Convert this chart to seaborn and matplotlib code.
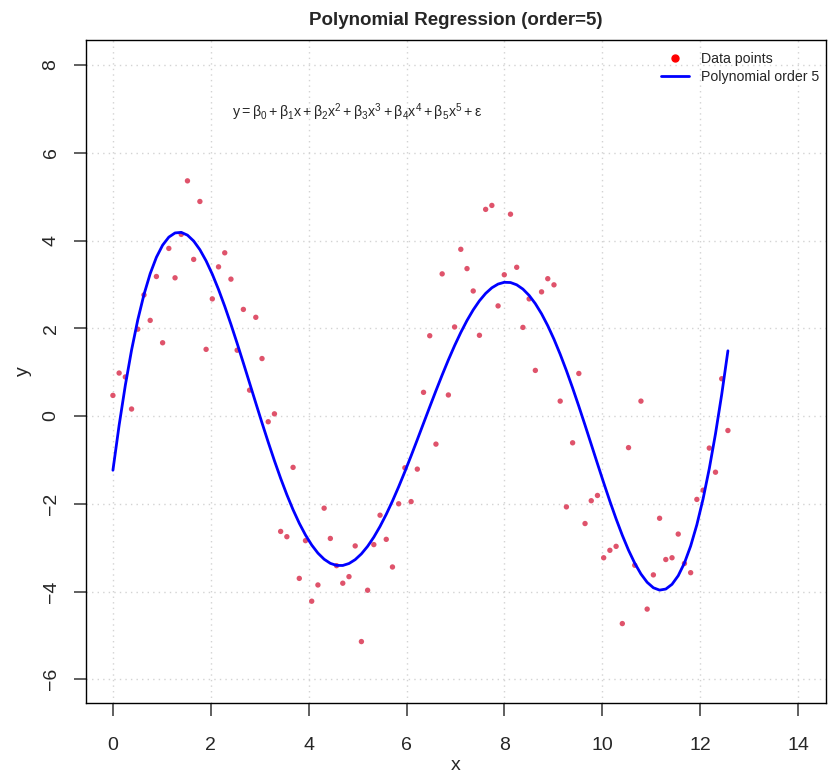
import numpy as np
import pandas as pd
import matplotlib
matplotlib.use("Agg")
import matplotlib.pyplot as plt
from matplotlib.lines import Line2D
import seaborn as sns

# ---- data ----
x_start, x_end, n_points = 0.0, 12.566, 100
y_values = [
    0.47, 0.98, 0.89, 0.16, 1.98, 2.76, 2.18, 3.18, 1.67, 3.82,
    3.15, 4.14, 5.36, 3.57, 4.89, 1.52, 2.67, 3.40, 3.72, 3.12,
    1.50, 2.43, 0.59, 2.25, 1.31, -0.13, 0.05, -2.63, -2.75, -1.17,
    -3.70, -2.84, -4.22, -3.85, -2.10, -2.79, -3.41, -3.81, -3.66, -2.96,
    -5.14, -3.97, -2.93, -2.26, -2.81, -3.44, -2.00, -1.18, -1.95, -1.21,
    0.54, 1.83, -0.64, 3.24, 0.48, 2.03, 3.80, 3.36, 2.85, 1.84,
    4.71, 4.80, 2.51, 3.22, 4.60, 3.39, 2.02, 2.67, 1.04, 2.83,
    3.13, 2.99, 0.34, -2.07, -0.61, 0.97, -2.45, -1.93, -1.81, -3.23,
    -3.06, -2.97, -4.73, -0.72, -3.40, 0.34, -4.40, -3.62, -2.33, -3.27,
    -3.23, -2.69, -3.36, -3.57, -1.90, -1.69, -0.73, -1.28, 0.85, -0.33,
]
x_values = np.linspace(x_start, x_end, n_points)

curve_x = [0.0, 0.45, 0.62, 0.88, 1.37, 2.02, 2.40, 2.83, 3.21, 3.41, 3.69,
           3.94, 4.23, 4.56, 4.91, 5.32, 5.97, 6.41, 6.68, 7.23, 7.64, 8.08,
           8.59, 8.93, 9.41, 9.85, 10.09, 10.63, 11.21, 11.66, 12.0, 12.27, 12.566]
curve_y = [-1.27, 1.96, 2.80, 3.48, 4.13, 3.18, 2.26, 0.74, -0.74, -1.31, -2.22,
           -2.83, -3.28, -3.46, -3.28, -2.60, -1.18, -0.01, 0.82, 2.04, 2.76, 3.09,
           2.64, 2.04, 0.60, -0.93, -1.76, -3.36, -3.85, -3.44, -2.22, -0.62, 1.47]
curve_smooth_order = 9

x_ticks = [0, 2, 4, 6, 8, 10, 12, 14]
y_ticks = [-6, -4, -2, 0, 2, 4, 6, 8]
title = "Polynomial Regression (order=5)"
legend_labels = ["Data points", "Polynomial order 5"]
equation = (r"$\mathsf{y=\beta_0+\beta_1x+\beta_2x^2+\beta_3x^3+\beta_4x^4+\beta_5x^5+\varepsilon}$")

df = pd.DataFrame({"x": x_values, "y": y_values})
curve_df = pd.DataFrame({"x": curve_x, "y": curve_y})

sns.set_style("white")
plt.rcParams["font.family"] = ["Liberation Sans", "DejaVu Sans"]
plt.rcParams["mathtext.fontset"] = "custom"
plt.rcParams["mathtext.rm"] = "Liberation Sans"
plt.rcParams["mathtext.sf"] = "Liberation Sans"
plt.rcParams["mathtext.it"] = "Liberation Sans"

fig = plt.figure(figsize=(8.31, 7.75), dpi=100)
ax = fig.add_axes([86 / 831, 1 - 703 / 775, (826 - 86) / 831, (703 - 40) / 775])

point_color = "#DF536B"
line_color = "blue"

sns.scatterplot(data=df, x="x", y="y", ax=ax, s=15, color=point_color,
                edgecolor="none", zorder=3)
sns.regplot(data=curve_df, x="x", y="y", order=curve_smooth_order, ci=None, ax=ax,
            scatter=False, line_kws=dict(color=line_color, lw=2.0, zorder=4))

ax.set_xlim(-0.55, 14.57)
ax.set_ylim(-6.54, 8.57)
ax.set_xticks(x_ticks)
ax.set_yticks(y_ticks)
ax.set_xticklabels([str(t) for t in x_ticks])
ax.set_yticklabels([str(t).replace("-", "\u2212") for t in y_ticks],
                   rotation=90, va="center")
ax.grid(True, color="#D3D3D3", linestyle=(0, (1, 3)), linewidth=1)
ax.set_axisbelow(True)
for s in ax.spines.values():
    s.set_visible(True)
    s.set_color("black")
    s.set_linewidth(1.0)
ax.tick_params(axis="both", direction="out", length=9, width=1.2,
               color="#444444", labelsize=14, bottom=True, left=True)
ax.tick_params(axis="x", pad=15.5)
ax.tick_params(axis="y", pad=10)
ax.set_xlabel("x", fontsize=14, labelpad=2)
ax.set_ylabel("y", fontsize=14, labelpad=8)
ax.set_title(title, fontsize=13.5, fontweight="bold", pad=10.5)

ax.text(5.0, 6.93, equation, ha="center", va="center", fontsize=10.2)

handles = [
    Line2D([], [], marker="o", linestyle="none", color="red", markersize=5),
    Line2D([], [], color=line_color, lw=2.0),
]
ax.legend(handles, legend_labels, loc="upper right", bbox_to_anchor=(1.0, 0.9925),
          frameon=False, fontsize=10.2, handlelength=2.0, borderaxespad=0.1,
          labelspacing=0.3)

fig.savefig("out.png", dpi=100)
